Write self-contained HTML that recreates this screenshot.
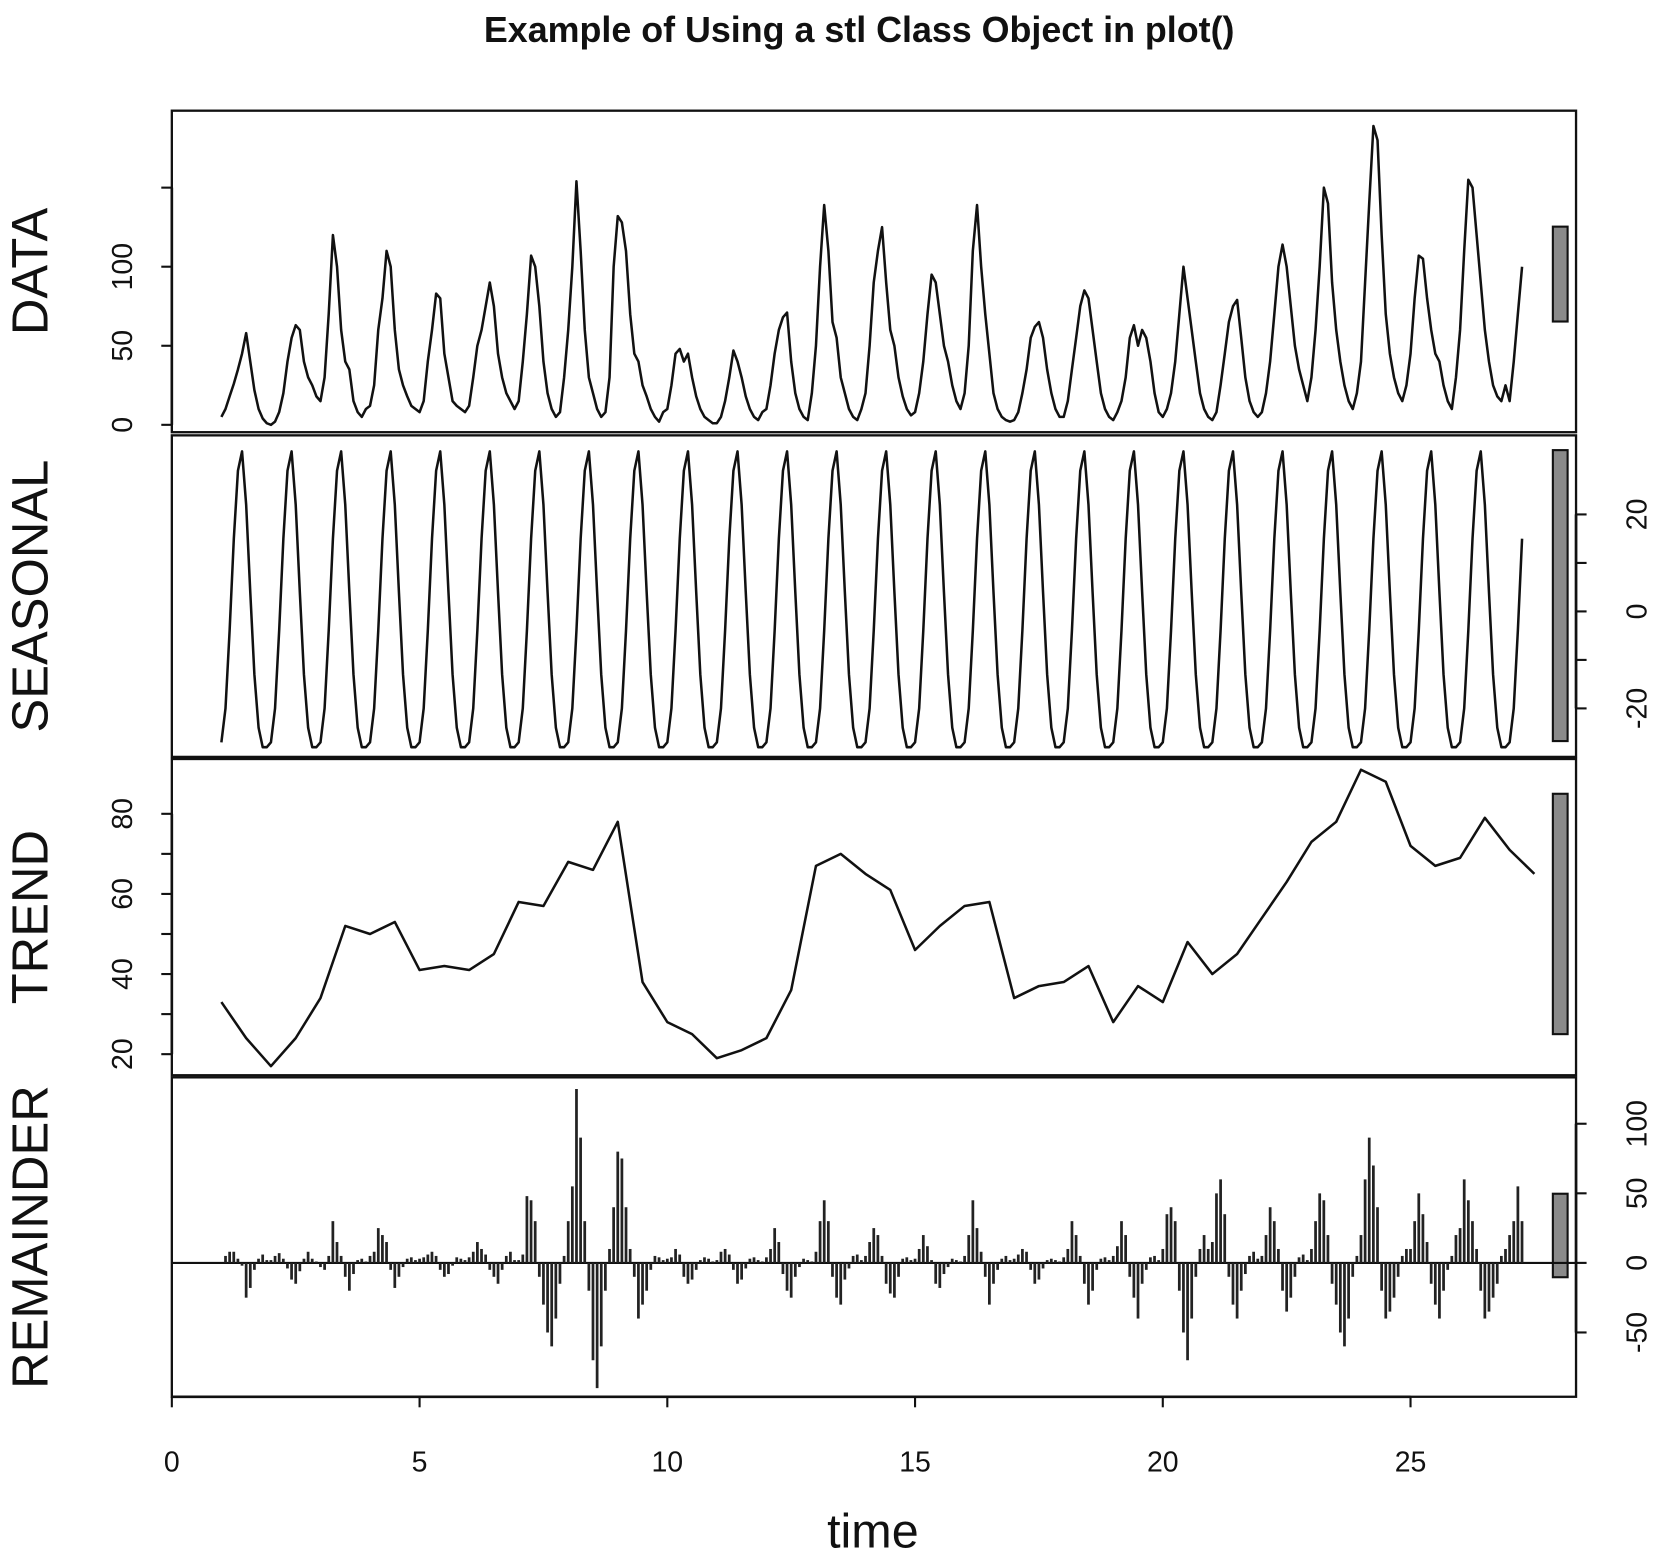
<!DOCTYPE html>
<html><head><meta charset="utf-8"><style>
html,body{margin:0;padding:0;background:#fff}
svg{display:block}
text{font-family:"Liberation Sans",Arial,sans-serif;fill:#111}
</style></head><body>
<svg id="chart" width="1653" height="1557" viewBox="0 0 1568 1477" preserveAspectRatio="none" xmlns="http://www.w3.org/2000/svg">
<text x="815" y="40" text-anchor="middle" font-size="34" font-weight="bold">Example of Using a stl Class Object in plot()</text>
<g id="g"></g>
</svg>
<script>
const dataVals=[
5,10,18,26,35,45,58,40,22,10,4,1,
0,2,8,20,40,55,63,60,40,30,25,18,
15,30,70,120,100,60,40,35,15,8,5,10,
12,25,60,80,110,100,60,35,25,18,12,10,
8,15,40,60,83,80,45,30,15,12,10,8,
12,30,50,60,75,90,75,45,30,20,15,10,
15,40,70,107,100,75,40,20,10,5,8,30,
60,100,154,110,60,30,20,10,5,8,30,100,
132,128,110,70,45,40,25,18,10,5,2,8,
10,25,45,48,40,45,30,18,10,5,3,1,
1,5,15,30,47,40,30,18,10,5,3,8,
10,25,45,60,68,71,40,20,10,5,3,20,
50,100,139,110,65,55,30,20,10,5,3,10,
20,50,90,110,125,90,60,50,30,18,10,6,
8,20,40,70,95,90,70,50,40,25,15,10,
20,50,110,139,100,70,45,20,10,5,3,2,
3,8,20,35,55,62,65,55,35,20,10,5,
5,15,35,55,75,85,80,60,40,20,10,5,
3,8,15,30,55,63,50,60,55,40,20,8,
5,10,20,40,70,100,80,60,40,20,10,5,
3,8,25,45,65,75,79,55,30,15,8,5,
8,20,40,70,100,114,100,75,50,35,25,15,
30,60,100,150,140,90,60,40,25,15,10,20,
40,90,140,189,180,120,70,45,30,20,15,25,
45,80,107,105,80,60,45,40,25,15,10,30,
60,110,155,150,120,90,60,40,25,18,15,25,
15,40,70,100];
const seasonalPattern=[-27,-20,-4,15,29,33,22,4,-13,-24,-28,-28];
const trendVals=[33,24,17,24,34,52,50,53,41,42,41,45,58,57,68,66,78,38,28,25,19,21,24,36,67,70,65,61,46,52,57,58,34,37,38,42,28,37,33,48,40,45,54,63,73,78,91,88,72,67,69,79,71,65];
const remainderVals=[
0,5,8,8,3,-2,-25,-18,-5,3,6,2,
2,5,7,3,-4,-12,-15,-6,3,8,3,1,
-3,-5,5,30,15,5,-10,-20,-8,2,3,1,
5,8,25,20,15,-5,-18,-10,-3,3,4,2,
3,4,6,8,5,-5,-10,-8,-2,4,3,2,
4,8,15,10,6,-5,-10,-15,-5,5,8,2,
2,6,48,45,30,-10,-30,-50,-60,-40,-15,5,
30,55,125,90,30,-20,-70,-90,-60,-20,10,40,
80,75,40,10,-10,-40,-30,-20,-5,5,4,2,
3,4,10,6,-10,-15,-12,-5,2,4,3,1,
2,8,10,6,-5,-15,-12,-4,3,4,2,1,
4,10,25,15,-8,-20,-25,-10,-3,3,2,1,
8,30,45,30,-10,-25,-30,-12,-4,5,6,2,
5,15,25,20,5,-15,-22,-25,-10,3,4,2,
3,10,20,12,2,-15,-18,-8,-3,3,2,1,
5,20,45,25,8,-10,-30,-15,-5,3,5,2,
3,6,10,8,-5,-15,-12,-4,2,3,2,1,
4,10,30,20,5,-15,-30,-20,-5,3,4,2,
5,12,30,20,-10,-25,-40,-15,-5,4,5,2,
10,35,40,30,-20,-50,-70,-40,-10,10,20,10,
15,50,60,35,-10,-30,-40,-20,-8,5,8,3,
5,20,40,30,10,-20,-35,-25,-10,4,6,2,
10,30,50,45,20,-15,-30,-50,-60,-40,-10,5,
20,60,90,70,40,-20,-40,-35,-25,-10,5,10,
10,30,50,35,15,-15,-30,-40,-20,-5,5,20,
25,60,45,30,10,-20,-40,-35,-25,-15,5,10,
20,30,55,30];
const xTicks=[0,5,10,15,20,25];
const dataTicks=[0,50,100,150], dataLabels=[0,50,100];
const seasTicks=[-20,-10,0,10,20], seasLabels=[-20,0,20];
const trendTicks=[20,30,40,50,60,70,80], trendLabels=[20,40,60,80];
const remTicks=[-50,0,50,100], remLabels=[-50,0,50,100];
const rangeSpan=60;

const NS='http://www.w3.org/2000/svg';
const g=document.getElementById('g');
const X0=163,X1=1495;
const xs=v=>X0+v*47;
function mk(t,a,p){const e=document.createElementNS(NS,t);for(const k in a)e.setAttribute(k,a[k]);(p||g).appendChild(e);return e;}
const panels=[
 {name:'data',label:'DATA',top:105,bot:410,y:v=>403-v*1.5,sc:1.5,side:'L',ticks:dataTicks,labels:dataLabels,mid:260},
 {name:'seasonal',label:'SEASONAL',top:413,bot:718,y:v=>580-v*4.6,sc:4.6,side:'R',ticks:seasTicks,labels:seasLabels,mid:565},
 {name:'trend',label:'TREND',top:720,bot:1020,y:v=>1000-(v-20)*3.8,sc:3.8,side:'L',ticks:trendTicks,labels:trendLabels,mid:867},
 {name:'remainder',label:'REMAINDER',top:1022,bot:1325,y:v=>1198-v*1.32,sc:1.32,side:'R',ticks:remTicks,labels:remLabels,mid:1172}];
panels.forEach(p=>{
 const r=mk('rect',{x:X0,y:p.top,width:X1-X0,height:p.bot-p.top,fill:'none',stroke:'#111','stroke-width':2.2});
 
 
 const cy=(p.top+p.bot)/2;
 const t=mk('text',{x:0,y:0,'font-size':48,'text-anchor':'middle',transform:`translate(45,${cy}) rotate(-90)`});
 t.textContent=p.label;
 
 
 const ax=p.side==='L'?X0:X1, dir=p.side==='L'?-1:1;
 p.ticks.forEach(v=>{const yy=p.y(v);const l=mk('line',{x1:ax,x2:ax+dir*10,y1:yy,y2:yy,stroke:'#111','stroke-width':2});
  
  });
 const ya=p.y(p.ticks[0]),yb=p.y(p.ticks[p.ticks.length-1]);
 mk('line',{x1:ax,x2:ax,y1:ya,y2:yb,stroke:'#111','stroke-width':2.5});
 p.labels.forEach(v=>{const yy=p.y(v);const tx=p.side==='L'?125:1562;
  const e=mk('text',{x:0,y:0,'font-size':27,'text-anchor':'middle',transform:`translate(${tx},${yy}) rotate(-90)`});
  e.textContent=v;
  
  });
 const h=rangeSpan*p.sc;
 const b=mk('rect',{x:1473,y:p.mid-h/2,width:14,height:h,fill:'#8a8a8a',stroke:'#111','stroke-width':2});
 
 
});
const mx=i=>xs(1+i/12);
function line(arr,xf,yf,name){const d=arr.map((v,i)=>(i?'L':'M')+xf(i).toFixed(1)+' '+yf(v).toFixed(1)).join('');
 const e=mk('path',{d:d,fill:'none',stroke:'#111','stroke-width':2.4,'stroke-linejoin':'round'});
 
 }
line(dataVals,mx,panels[0].y,'data-line');
const seasonal=dataVals.map((_,i)=>seasonalPattern[i%12]);
line(seasonal,mx,panels[1].y,'seasonal-line');
line(trendVals,i=>xs(1+i/2),panels[2].y,'trend-line');
const ry=panels[3].y;
mk('line',{x1:X0,x2:X1,y1:ry(0),y2:ry(0),stroke:'#111','stroke-width':2});
remainderVals.forEach((v,i)=>{const x=mx(i);
 const e=mk('line',{x1:x,x2:x,y1:ry(0),y2:ry(v),stroke:'#222','stroke-width':2.6});
 
 });
mk('line',{x1:xs(0),x2:xs(25),y1:1325,y2:1325,stroke:'#111','stroke-width':2.5});
xTicks.forEach(v=>{const x=xs(v);
 const l=mk('line',{x1:x,x2:x,y1:1325,y2:1335,stroke:'#111','stroke-width':2});
 
 
 const t=mk('text',{x:x,y:1396,'font-size':27,'text-anchor':'middle'});t.textContent=v;
 
 });
const xt=mk('text',{x:828,y:1468,'font-size':46,'text-anchor':'middle'});xt.textContent='time';


</script>
</body></html>
